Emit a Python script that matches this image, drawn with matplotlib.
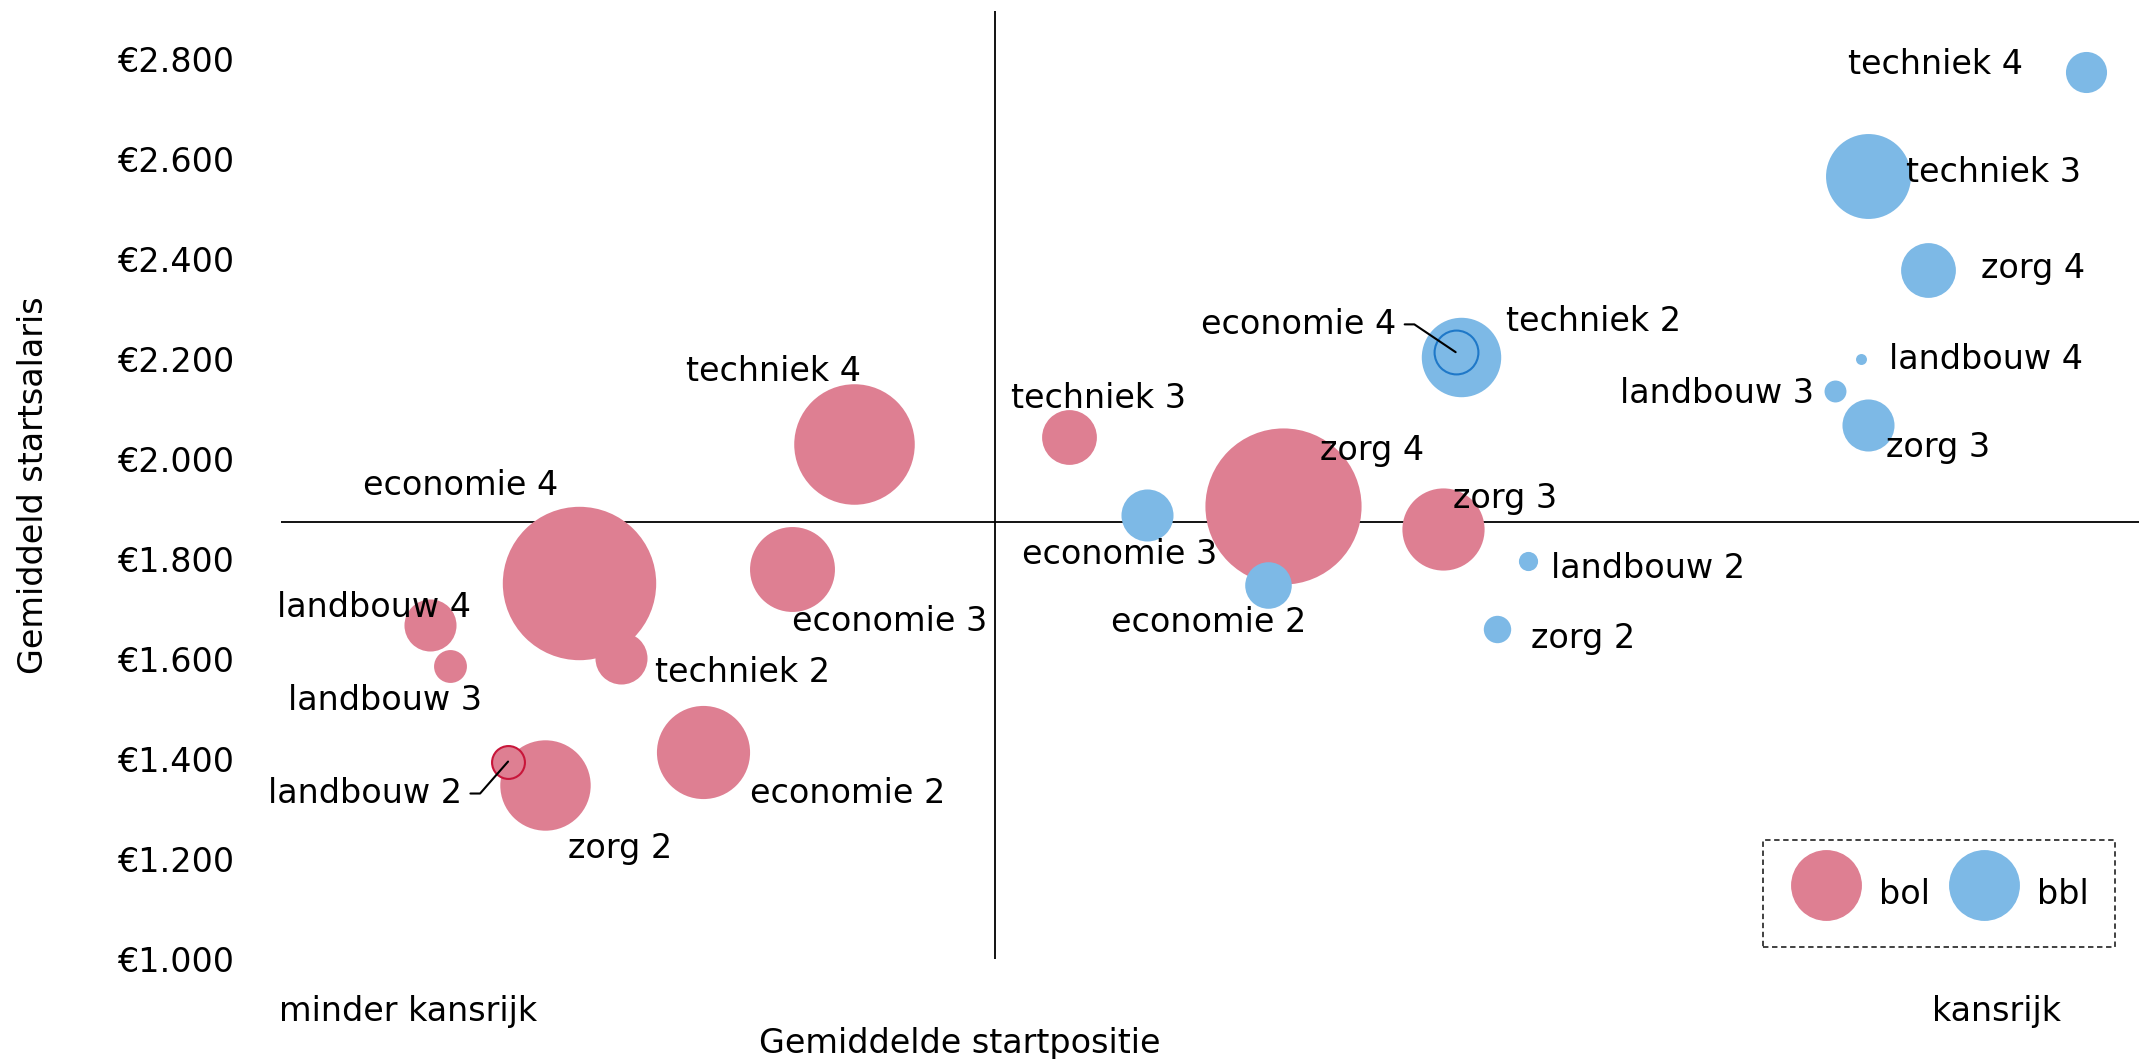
import matplotlib
matplotlib.use('Agg')
import matplotlib.pyplot as plt
from matplotlib.lines import Line2D

plt.rcParams['font.family'] = ['DejaVu Sans']

## Data: startpositie (arbitrary scale 0-100), startsalaris (euro), aantal (bubble area)
namen = ['economie 2', 'economie 3', 'economie 4',
         'landbouw 2', 'landbouw 3', 'landbouw 4',
         'techniek 2', 'techniek 3', 'techniek 4',
         'zorg 2', 'zorg 3', 'zorg 4']

bol_pos = [22.7, 27.5, 16.0, 12.2, 9.1, 8.0, 18.3, 42.4, 30.8, 14.2, 62.5, 53.9]
bol_sal = [1414, 1781, 1753, 1395, 1586, 1668, 1603, 2044, 2030, 1348, 1860, 1907]
bol_aantal = [1156, 961, 3136, 144, 144, 361, 361, 400, 1936, 1089, 900, 3249]

bbl_pos = [53.1, 46.6, 63.2, 67.1, 83.6, 85.0, 63.5, 85.4, 97.1, 65.4, 85.4, 88.6]
bbl_sal = [1748, 1888, 2214, 1797, 2137, 2200, 2205, 2567, 2775, 1660, 2068, 2378]
bbl_aantal = [289, 361, 256, 49, 64, 16, 841, 961, 225, 100, 361, 400]

gem_pos = 38.4
gem_sal = 1874

# label offsets in points
bol_off = [(104, -30), (70, -38), (-85, 70), (-103, -23), (-47, -25), (-40, 13),
           (87, -11), (21, 28), (-58, 52), (54, -46), (45, 22), (64, 40)]
bbl_off = [(-43, -27), (-20, -28), (-113, 20), (86, -6), (-85, -2), (90, 0),
           (95, 25), (90, 2), (-108, 5), (62, -7), (50, -16), (76, 1)]

pink = '#DE7F92'
blue = '#7DB9E6'

fig = plt.figure(figsize=(21.48, 10.59), dpi=100)
ax = fig.add_axes([0.131, 0.0944, 0.865, 0.895])

# bubbles drawn largest first so small ones stay visible
def draw(pos, sal, aantal, color, edge_idx, edge_col):
    order = sorted(range(len(pos)), key=lambda i: -aantal[i])
    for i in order:
        if i == edge_idx:
            ax.scatter(pos[i], sal[i], s=aantal[i]*3.89, facecolor=color,
                       edgecolor=edge_col, linewidth=1.5, zorder=3)
        else:
            ax.scatter(pos[i], sal[i], s=aantal[i]*3.89, color=color,
                       linewidth=0, zorder=2)

draw(bol_pos, bol_sal, bol_aantal, pink, 3, '#C8163A')
draw(bbl_pos, bbl_sal, bbl_aantal, blue, 2, '#1F78C8')

fs = 24
for pos, sal, off in [(bol_pos, bol_sal, bol_off), (bbl_pos, bbl_sal, bbl_off)]:
    for i, naam in enumerate(namen):
        if naam in ('landbouw 2',) and pos is bol_pos or naam == 'economie 4' and pos is bbl_pos:
            ax.annotate(naam, (pos[i], sal[i]), xytext=off[i], textcoords='offset points',
                        ha='center', va='center', fontsize=fs, zorder=5,
                        arrowprops=dict(arrowstyle='-', color='black', lw=1.5,
                                        relpos=(1, 0.5), shrinkA=4, shrinkB=0,
                                        connectionstyle='arc,angleA=0,armA=18,angleB=0,armB=0,rad=0'))
        else:
            ax.annotate(naam, (pos[i], sal[i]), xytext=off[i], textcoords='offset points',
                        ha='center', va='center', fontsize=fs, zorder=5)

ax.axhline(gem_sal, color='black', lw=1.3, zorder=1)
ax.axvline(gem_pos, color='black', lw=1.3, zorder=1)

ax.set_xlim(0, 100)
ax.set_ylim(1000, 2896)
ax.set_yticks(range(1000, 2801, 200))
ax.set_yticklabels(['€{:,}'.format(v).replace(',', '.') for v in range(1000, 2801, 200)])
ax.set_xticks([6.8, 92.3])
ax.set_xticklabels(['minder kansrijk', 'kansrijk'])
ax.tick_params(length=0, labelsize=fs)
ax.tick_params(axis='y', pad=34)
ax.tick_params(axis='x', pad=26)
for s in ax.spines.values():
    s.set_visible(False)

ax.set_xlabel('Gemiddelde startpositie', fontsize=fs)
ax.xaxis.set_label_coords(0.365, -0.072)
ax.set_ylabel('Gemiddeld startsalaris', fontsize=fs, labelpad=48,
              family=['Liberation Sans Narrow', 'DejaVu Sans'])

handles = [Line2D([], [], marker='o', ls='', markersize=50, color=pink, label='bol'),
           Line2D([], [], marker='o', ls='', markersize=50, color=blue, label='bbl')]
leg = ax.legend(handles=handles, loc='lower right', ncol=2, fontsize=fs,
                frameon=True, fancybox=False, edgecolor='black',
                bbox_to_anchor=(0.987, 0.013), borderpad=0.8, handleheight=2.1,
                handlelength=2.2, handletextpad=0.5, columnspacing=0.5,
                borderaxespad=0)
leg.get_frame().set_linestyle((0, (3, 2)))
leg.get_frame().set_linewidth(1.3)

fig.savefig('out.png', dpi=100)
